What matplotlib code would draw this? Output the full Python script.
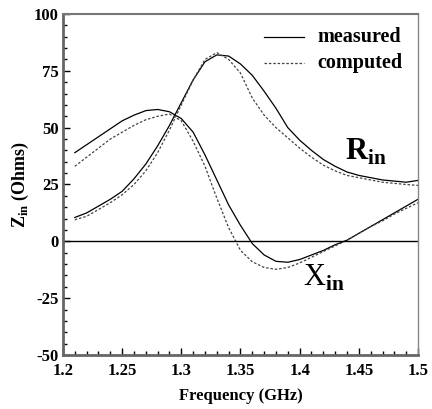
import matplotlib
matplotlib.use('Agg')
import matplotlib.pyplot as plt
from matplotlib.ticker import MultipleLocator

plt.rcParams['font.family'] = ['Liberation Serif', 'DejaVu Serif']
plt.rcParams['mathtext.fontset'] = 'custom'
plt.rcParams['mathtext.rm'] = 'Liberation Serif'
plt.rcParams['mathtext.bf'] = 'Liberation Serif:bold'

# frequency points (GHz)
freq = [1.21, 1.22, 1.23, 1.24, 1.25, 1.26, 1.27, 1.28, 1.29, 1.30,
        1.31, 1.32, 1.33, 1.34, 1.35, 1.36, 1.37, 1.38, 1.39, 1.40,
        1.41, 1.42, 1.43, 1.44, 1.45, 1.46, 1.47, 1.48, 1.49, 1.50]

# resistance
r_meas = [10.5, 12.5, 15.5, 18.5, 22, 27.5, 34, 42, 51, 61,
          71, 79, 82, 81.5, 78, 73, 66, 58.5, 50, 44.5,
          40, 36, 33, 30.5, 29, 28, 27, 26.5, 26, 26.8]
r_comp = [9.5, 11, 14, 17, 20.5, 25, 31, 39, 49, 60,
          71, 80, 83, 80, 74, 63, 55.5, 50, 45.5, 41,
          37, 33.5, 31, 29, 28, 27, 26, 25.5, 25, 24.6]

# reactance
x_meas = [39, 42.5, 46, 49.5, 53, 55.5, 57.5, 58, 57, 54,
          48, 38, 27, 16, 7, -1, -6, -8.8, -9.2, -8,
          -6, -4, -1.5, 0.5, 3.5, 6.5, 9.5, 12.5, 15.5, 18.5]
x_comp = [33, 37, 41, 45, 48, 51, 53.5, 55, 56, 53,
          44, 33, 19, 6, -4, -9, -11.5, -12.3, -11.5, -9.5,
          -7, -4.5, -2, 0.5, 3.5, 6.5, 9, 12, 14.5, 17]

xticks = [1.2, 1.25, 1.3, 1.35, 1.4, 1.45, 1.5]
xtick_labels = ['1.2', '1.25', '1.3', '1.35', '1.4', '1.45', '1.5']
yticks = [-50, -25, 0, 25, 50, 75, 100]
ytick_labels = ['-50', '-25', '0', '25', '50', '75', '100']

fig = plt.figure(figsize=(4.32, 4.09), dpi=100)
ax = fig.add_axes([0.1458, 0.132, 0.8218, 0.8338])

dash = (0, (2, 1.5))
ax.plot(freq, r_meas, color='black', lw=0.9)
ax.plot(freq, x_meas, color='black', lw=0.9)
ax.plot(freq, r_comp, color='#444444', lw=0.9, ls=dash)
ax.plot(freq, x_comp, color='#444444', lw=0.9, ls=dash)
ax.axhline(0, color='black', lw=1.0)

ax.set_xlim(1.2, 1.5)
ax.set_ylim(-50, 100)
ax.set_xticks(xticks)
ax.set_xticklabels(xtick_labels, fontsize=12, fontweight='bold')
ax.set_yticks(yticks)
ax.set_yticklabels(ytick_labels, fontsize=12, fontweight='bold')
ax.xaxis.set_minor_locator(MultipleLocator(0.01))
ax.yaxis.set_minor_locator(MultipleLocator(5))
ax.tick_params(which='major', direction='in', length=5, width=1,
               top=False, right=False)
ax.tick_params(axis='x', which='major', pad=6)
ax.tick_params(axis='y', which='major', pad=3)
ax.tick_params(which='minor', direction='in', length=3, width=1,
               top=False, right=False)

for side in ['left', 'bottom']:
    ax.spines[side].set_color('#666666')
    ax.spines[side].set_linewidth(2)
ax.spines['top'].set_color('#777777')
ax.spines['top'].set_linewidth(1.5)
ax.spines['right'].set_color('#888888')
ax.spines['right'].set_linewidth(1)

ax.set_xlabel('Frequency (GHz)', fontsize=12, fontweight='bold', labelpad=6)
ax.set_ylabel(r'Z$_{\mathbf{in}}$ (Ohms)', fontsize=13, fontweight='bold', labelpad=2)

# legend
ax.plot([1.37, 1.404], [90, 90], color='black', lw=0.9)
ax.plot([1.37, 1.404], [78.5, 78.5], color='#444444', lw=0.9, ls=dash)
ax.text(1.415, 90, 'measured', fontsize=14.5, fontweight='bold', va='center')
ax.text(1.415, 78.5, 'computed', fontsize=14.5, fontweight='bold', va='center')

# curve labels
ax.text(1.438, 39.5, r'R$_{\mathbf{in}}$', fontsize=22, fontweight='bold', va='center')
ax.text(1.403, -16, r'X$_{\mathbf{in}}$', fontsize=22, va='center')

fig.savefig('out.png', dpi=100)
